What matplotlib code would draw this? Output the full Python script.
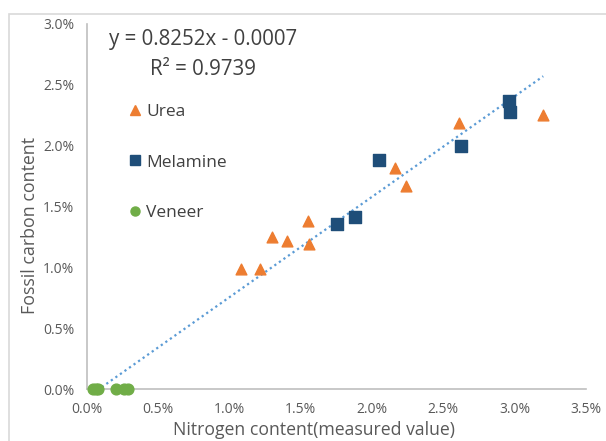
import matplotlib.pyplot as plt
from matplotlib.lines import Line2D
import numpy as np

plt.rcParams['font.family'] = ['Open Sans', 'DejaVu Sans']

# data (percent)
urea_x = [1.08, 1.21, 1.30, 1.40, 1.55, 1.56, 2.16, 2.24, 2.61, 3.20]
urea_y = [0.99, 0.99, 1.25, 1.22, 1.38, 1.19, 1.82, 1.67, 2.19, 2.25]
melamine_x = [1.75, 1.88, 2.05, 2.62, 2.96, 2.97]
melamine_y = [1.36, 1.41, 1.88, 2.00, 2.37, 2.28]
veneer_x = [0.04, 0.06, 0.08, 0.20, 0.26, 0.29]
veneer_y = [0.0, 0.0, 0.0, 0.0, 0.0, 0.0]

slope = 0.8252
intercept = -0.0007
r2 = 0.9739

x_ticks = [0.0, 0.5, 1.0, 1.5, 2.0, 2.5, 3.0, 3.5]
y_ticks = [0.0, 0.5, 1.0, 1.5, 2.0, 2.5, 3.0]

fig = plt.figure(figsize=(6.06, 4.41), dpi=100)
ax = fig.add_axes([0.1436, 0.1179, 0.8234, 0.8277])

# light frame around the chart area
fig.patches.append(plt.Rectangle((9 / 606, -0.1), 1.2, (441 - 14) / 441 + 0.1,
                                 transform=fig.transFigure, fill=False,
                                 edgecolor='#d9d9d9', linewidth=1.2))

# trendline
all_x = urea_x + melamine_x + veneer_x
tx = np.linspace(min(all_x), max(all_x), 100)
ty = slope * tx + intercept * 100
ax.plot(tx, ty, linestyle=(0, (1, 1.5)), color='#5b9bd5', linewidth=1.6)

ax.scatter(urea_x, urea_y, marker='^', s=60, color='#ed7d31', clip_on=False, zorder=3, label='Urea')
ax.scatter(melamine_x, melamine_y, marker='s', s=70, color='#1f4e79', clip_on=False, zorder=3, label='Melamine')
ax.scatter(veneer_x, veneer_y, marker='o', s=60, color='#70ad47', clip_on=False, zorder=3, label='Veneer')

ax.set_xlim(0, 3.5)
ax.set_ylim(0, 3.0)
ax.set_xticks(x_ticks)
ax.set_yticks(y_ticks)
ax.set_xticklabels([f'{v:.1f}%' for v in x_ticks])
ax.set_yticklabels([f'{v:.1f}%' for v in y_ticks])
ax.tick_params(length=0, labelsize=10, labelcolor='#595959', pad=9)

for s in ['top', 'right']:
    ax.spines[s].set_visible(False)
for s in ['left', 'bottom']:
    ax.spines[s].set_color('#bfbfbf')
    ax.spines[s].set_linewidth(1.2)

ax.set_xlabel('Nitrogen content(measured value)', fontsize=12.7, color='#595959')
ax.set_ylabel('Fossil carbon content', fontsize=12.8, color='#595959')
ax.xaxis.set_label_coords(0.455, -0.088)
ax.yaxis.set_label_coords(-0.097, 0.449)

eq_x = 0.815
ax.text(eq_x, 2.87, f'y = {slope}x - {abs(intercept)}', fontsize=14.8, color='#404040',
        va='center', ha='center')
ax.text(eq_x, 2.63, f'R² = {r2}', fontsize=14.8, color='#404040', va='center', ha='center')

handles = [
    Line2D([], [], marker='^', color='#ed7d31', linestyle='none', markersize=6.5),
    Line2D([], [], marker='s', color='#1f4e79', linestyle='none', markersize=6.5),
    Line2D([], [], marker='o', color='#70ad47', linestyle='none', markersize=6.5),
]
ax.legend(handles, ['Urea', 'Melamine', 'Veneer'], loc='upper left',
          bbox_to_anchor=(0.045, 0.825), frameon=False, fontsize=12.5,
          labelcolor='#404040', handletextpad=0.1, labelspacing=2.0,
          handlelength=1.1)

fig.savefig('out.png', dpi=100)
